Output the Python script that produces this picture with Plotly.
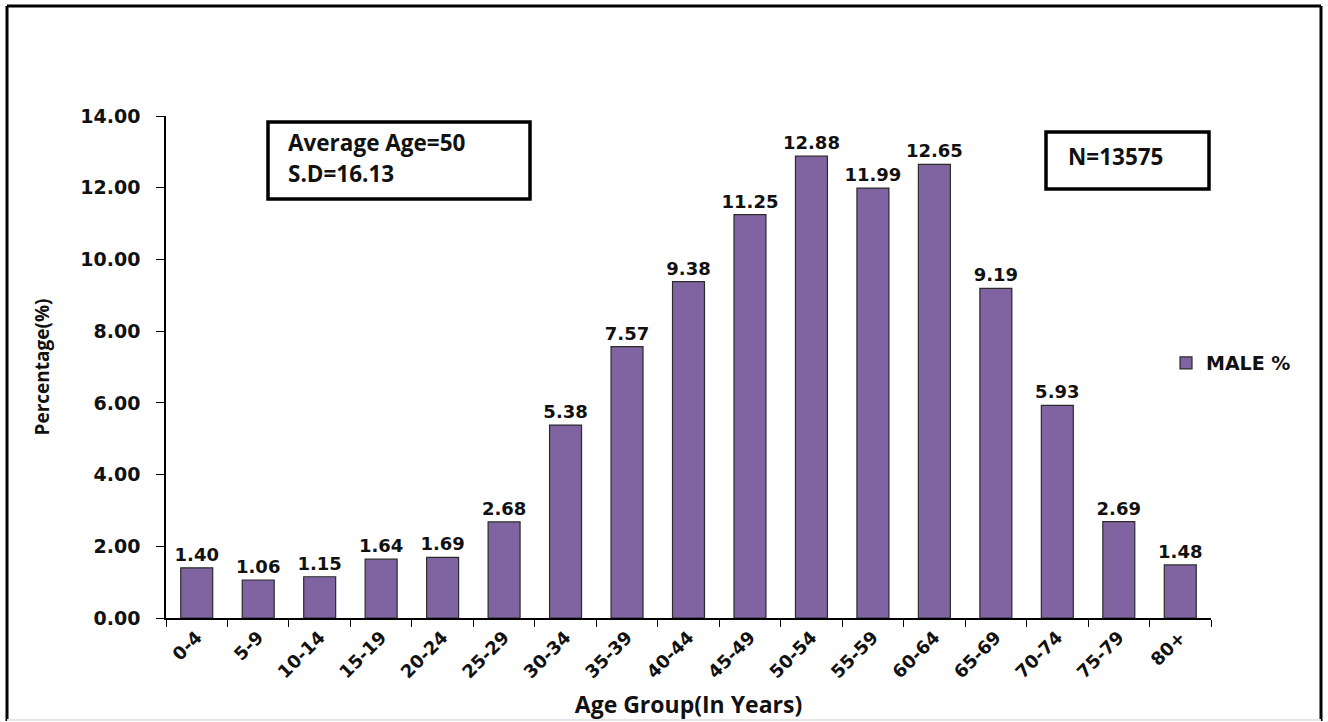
import plotly.graph_objects as go

age_groups = ["0-4", "5-9", "10-14", "15-19", "20-24", "25-29", "30-34", "35-39",
              "40-44", "45-49", "50-54", "55-59", "60-64", "65-69", "70-74", "75-79", "80+"]
male_pct = [1.40, 1.06, 1.15, 1.64, 1.69, 2.68, 5.38, 7.57, 9.38, 11.25, 12.88,
            11.99, 12.65, 9.19, 5.93, 2.69, 1.48]
y_ticks = [0, 2, 4, 6, 8, 10, 12, 14]

W, H = 1328, 722
L, R, T, B = 166, 117, 116, 104
PW, PH = W - L - R, H - T - B


def px(x):
    return (x - L) / PW


def py(y):
    return (H - B - y) / PH


BOLD = "DejaVu Sans"
CAL = "Open Sans"

fig = go.Figure()
fig.add_trace(go.Bar(
    x=age_groups, y=male_pct, name="MALE %",
    marker=dict(color="#8064A2", line=dict(color="#2b2b2b", width=1.2)),
    texttemplate="%{y:.2f}", textposition="outside", cliponaxis=False,
    constraintext="none",
    textfont=dict(family=BOLD, size=18, color="#111111", weight="bold"),
))

shapes = [
    # outer frame
    dict(type="line", xref="paper", yref="paper", x0=px(7), x1=px(7), y0=py(6), y1=py(721),
         line=dict(color="black", width=3)),
    dict(type="line", xref="paper", yref="paper", x0=px(7), x1=px(1321), y0=py(6), y1=py(6),
         line=dict(color="black", width=3)),
    dict(type="line", xref="paper", yref="paper", x0=px(1321), x1=px(1321), y0=py(6), y1=py(721),
         line=dict(color="black", width=3)),
    dict(type="line", xref="paper", yref="paper", x0=px(7), x1=px(1321), y0=py(720), y1=py(720),
         line=dict(color="#e6e6e6", width=2)),
    # annotation boxes
    dict(type="rect", xref="paper", yref="paper", x0=px(268), x1=px(530), y0=py(122), y1=py(199),
         line=dict(color="black", width=3.5), fillcolor="white", layer="above"),
    dict(type="rect", xref="paper", yref="paper", x0=px(1046), x1=px(1209), y0=py(132), y1=py(189),
         line=dict(color="black", width=3.5), fillcolor="white", layer="above"),
]

annotations = [
    dict(xref="paper", yref="paper", x=px(286), y=py(143), text="<b>Average Age=50</b>",
         showarrow=False, xanchor="left", yanchor="middle",
         font=dict(family=CAL, size=22.5, color="#111111")),
    dict(xref="paper", yref="paper", x=px(286), y=py(173), text="<b>S.D=16.13</b>",
         showarrow=False, xanchor="left", yanchor="middle",
         font=dict(family=CAL, size=22.5, color="#111111")),
    dict(xref="paper", yref="paper", x=px(1066), y=py(156), text="<b>N=13575</b>",
         showarrow=False, xanchor="left", yanchor="middle",
         font=dict(family=CAL, size=22.5, color="#111111")),
]

fig.update_layout(
    width=W, height=H,
    margin=dict(l=L, r=R, t=T, b=B, autoexpand=False),
    paper_bgcolor="white", plot_bgcolor="white",
    bargap=0.48,
    showlegend=True,
    legend=dict(x=px(1166), y=py(363), xanchor="left", yanchor="middle",
                font=dict(family=BOLD, size=19, color="#111111", weight="bold"),
                itemwidth=30, bgcolor="rgba(0,0,0,0)"),
    shapes=shapes, annotations=annotations,
    xaxis=dict(
        type="category", showline=True, linecolor="black", linewidth=1.5,
        ticks="outside", tickson="boundaries", ticklen=7, tickcolor="black", tickwidth=1.2,
        tickangle=-45, showgrid=False,
        tickfont=dict(family=BOLD, size=18, color="#111111", weight="bold"),
        title=dict(text="<b>Age Group(In Years)</b>", standoff=16,
                   font=dict(family=CAL, size=23, color="#111111")),
    ),
    yaxis=dict(
        range=[0, 14], tickvals=y_ticks, tickformat=".2f", showgrid=False, zeroline=False,
        showline=True, linecolor="black", linewidth=1.5,
        ticks="outside", ticklen=8, tickcolor="black", tickwidth=1.2,
        ticklabelstandoff=12,
        tickfont=dict(family=BOLD, size=19, color="#111111", weight="bold"),
        title=dict(text="<b>Percentage(%)</b>", standoff=26,
                   font=dict(family=CAL, size=19, color="#111111")),
    ),
)

fig.write_html("out.html", config={"displayModeBar": False},
               post_script="document.body.style.margin='0';")
